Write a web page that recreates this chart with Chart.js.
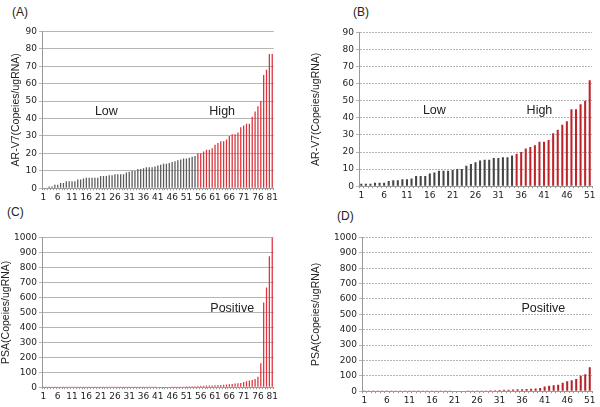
<!DOCTYPE html>
<html>
<head>
<meta charset="utf-8">
<script src="https://cdn.jsdelivr.net/npm/chart.js@4.4.0/dist/chart.umd.min.js"></script>
<style>
  body { margin: 0; background: #fff; width: 600px; height: 407px; position: relative; overflow: hidden; font-family: "Liberation Sans", Arial, sans-serif; }
  .panel { position: absolute; }
  .tag { position: absolute; font-size: 12px; color: #222; }
</style>
</head>
<body>
<div class="tag" style="left:12px; top:5px;">(A)</div>
<div class="tag" style="left:353px; top:5px;">(B)</div>
<div class="tag" style="left:7px; top:205px;">(C)</div>
<div class="tag" style="left:337px; top:209px;">(D)</div>

<div class="panel" style="left:2px; top:24px; width:278px; height:181px;"><canvas id="chartA"></canvas></div>
<div class="panel" style="left:302px; top:25px; width:296px; height:178px;"><canvas id="chartB"></canvas></div>
<div class="panel" style="left:0px; top:230px; width:280px; height:174px;"><canvas id="chartC"></canvas></div>
<div class="panel" style="left:302px; top:230px; width:296px; height:178px;"><canvas id="chartD"></canvas></div>

<script>
// AR-V7, 81 samples (A) -- first 54 "Low", rest "High"
const arvA = [0, 0, 1, 1, 2, 2, 3, 3, 4, 4,
  4, 4, 5, 5, 5.5, 6, 6, 6, 6, 6,
  7, 7, 7, 7.5, 7.5, 8, 8, 8, 8, 9,
  9.5, 10, 10, 11, 11, 11.5, 12, 12, 12, 12.5,
  13, 13.5, 14, 14, 14.5, 15, 15.5, 16, 16.5, 17,
  17, 17.5, 18, 18.5, 20, 20, 21, 22, 22, 23,
  25, 26, 27, 27, 28, 30, 31, 31, 32, 35,
  36, 37, 37, 41, 44, 47, 50, 65, 68, 77, 77];
const lowCountA = 54;

// AR-V7, 51 samples (B) -- first 34 "Low"
const arvB = [1.5, 1.5, 1.5, 2, 2, 2, 3, 3.5, 3.5, 4,
  4, 4.5, 6, 6, 6, 7.5, 8, 9, 9, 9,
  9.5, 10, 10, 12, 13, 14, 15, 15.5, 15.5, 16.5,
  16.5, 17, 17, 18, 19, 20, 22, 23, 24, 26,
  26, 27, 31, 33, 36, 38, 45, 45, 48, 50, 62];
const lowCountB = 34;

// PSA, 81 samples (C)
const psaC = [1, 1, 1, 1, 1, 1, 1, 1, 1, 1,
  1, 1, 1, 1, 1, 1, 1, 1, 1, 1,
  2, 2, 2, 2, 2, 2, 2, 2, 2, 2,
  2, 2, 2, 2, 2, 2, 2, 2, 2, 2,
  3, 3, 3, 3, 3, 5, 5, 5, 5, 5,
  6, 6, 7, 7, 8, 10, 10, 11, 12, 12,
  13, 14, 15, 17, 18, 20, 22, 24, 26, 28,
  35, 40, 45, 48, 55, 70, 160, 565, 665, 875, 1000];

// PSA, 51 samples (D)
const psaD = [2, 2, 2, 2, 2, 2, 2, 2, 2, 2,
  2, 2, 2, 2, 2, 2, 2, 2, 2, 2,
  3, 3, 3, 4, 4, 5, 5, 5, 6, 6,
  8, 9, 10, 11, 12, 13, 14, 16, 18, 20,
  30, 35, 38, 42, 55, 65, 72, 80, 100, 110, 155];

const arvTitle = "AR-V7(Copeies/ugRNA)";
const psaTitle = "PSA(Copeies/ugRNA)";

function indexLabels(n) {
  const out = [];
  for (let i = 1; i <= n; i++) out.push(String(i));
  return out;
}

// draws text like "Low"/"High" at data coordinates
const notesPlugin = {
  id: "notes",
  afterDatasetsDraw(chart, args, opts) {
    const ctx = chart.ctx;
    const xs = chart.scales.x, ys = chart.scales.y;
    ctx.save();
    ctx.font = "12.5px 'Liberation Sans', Arial, sans-serif";
    ctx.fillStyle = "#222";
    ctx.textAlign = "center";
    ctx.textBaseline = "middle";
    (opts.items || []).forEach(function (it) {
      ctx.fillText(it.text, xs.getPixelForValue(it.x - 1), ys.getPixelForValue(it.y));
    });
    ctx.restore();
  }
};

function makeChart(id, values, colors, yMax, yStep, title, notes, dashed, yWidth, titlePad) {
  const ctx = document.getElementById(id).getContext("2d");
  return new Chart(ctx, {
    type: "bar",
    data: {
      labels: indexLabels(values.length),
      datasets: [{
        data: values,
        backgroundColor: colors,
        barPercentage: 0.45,
        categoryPercentage: 1.0
      }]
    },
    options: {
      responsive: true,
      maintainAspectRatio: false,
      animation: false,
      layout: { padding: { right: 6, top: 4 } },
      plugins: {
        legend: { display: false },
        tooltip: { enabled: false },
        notes: { items: notes }
      },
      scales: {
        x: {
          grid: { drawOnChartArea: false, drawTicks: true, tickLength: 2, color: "#999" },
          border: { color: "#999" },
          ticks: {
            autoSkip: false,
            maxRotation: 0,
            padding: 2,
            color: "#222",
            font: { family: "'DejaVu Sans', sans-serif", size: 9 },
            callback: function (v, i) { return i % 5 === 0 ? this.getLabelForValue(v) : ""; }
          }
        },
        y: {
          min: 0,
          max: yMax,
          grid: { color: "#b5b5b5", drawTicks: true, tickLength: 3 },
          border: { color: "#999", dash: dashed ? [2, 1] : [] },
          ticks: {
            stepSize: yStep,
            padding: 2,
            color: "#222",
            font: { family: "'DejaVu Sans', sans-serif", size: 9 },
            callback: function (v) { return String(v); }
          },
          title: {
            display: true,
            text: title,
            color: "#222",
            padding: { top: titlePad, bottom: 2 },
            font: { family: "'Liberation Sans', Arial, sans-serif", size: 10.5 }
          },
          afterFit: function (scale) { scale.width = yWidth; }
        }
      }
    },
    plugins: [notesPlugin]
  });
}

const grayA = "#5a5a5a", redA = "#d8343b";
const grayB = "#444444", redB = "#be252b";
const redC = "#e0343f", redD = "#b52227";

makeChart("chartA", arvA, arvA.map((v, i) => i < lowCountA ? grayA : redA), 90, 10, arvTitle,
  [{ text: "Low", x: 23, y: 44 }, { text: "High", x: 63.5, y: 44 }], false, 40, 8);
makeChart("chartB", arvB, arvB.map((v, i) => i < lowCountB ? grayB : redB), 90, 10, arvTitle,
  [{ text: "Low", x: 17, y: 44 }, { text: "High", x: 40, y: 44 }], true, 57, 8);
makeChart("chartC", psaC, psaC.map(() => redC), 1000, 100, psaTitle,
  [{ text: "Positive", x: 67, y: 522 }], false, 42, 0);
makeChart("chartD", psaD, psaD.map(() => redD), 1000, 100, psaTitle,
  [{ text: "Positive", x: 40.7, y: 536 }], true, 60, 8);
</script>
</body>
</html>
